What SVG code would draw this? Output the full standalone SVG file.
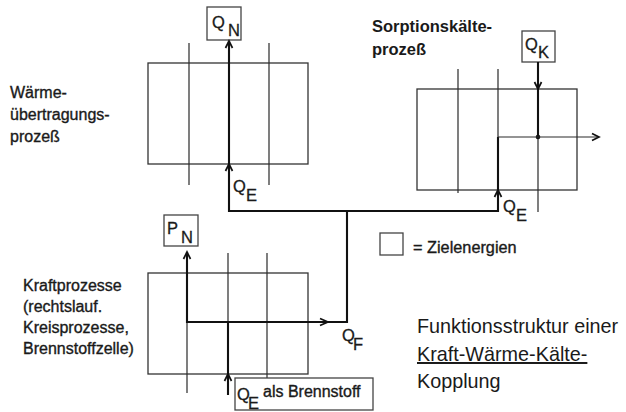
<svg xmlns="http://www.w3.org/2000/svg" width="626" height="412" viewBox="0 0 626 412">
<style>
text{font-family:"Liberation Sans",Arial,sans-serif;fill:#1a1a1a}
.lbl{font-size:16px;stroke:#1a1a1a;stroke-width:0.35}
.bold{font-size:16.5px;font-weight:bold}
.q{font-size:16.5px;stroke:#1a1a1a;stroke-width:0.3}
.qs{font-size:16px;stroke:#1a1a1a;stroke-width:0.35}
.title{font-size:19.8px}
.box{fill:none;stroke:#333;stroke-width:1.3}
.thin{fill:none;stroke:#2a2a2a;stroke-width:1.2}
.thick{fill:none;stroke:#111;stroke-width:2.1}
.ah{fill:none;stroke:#111;stroke-width:1.7;stroke-linejoin:miter}
.tbox{fill:#fff;stroke:#444;stroke-width:1.3}
</style>
<rect width="626" height="412" fill="#fff"/>

<g id="waerme">
<rect class="box" x="148" y="63" width="160" height="101"/>
<path class="thin" d="M189 43V185M269 43V185"/>
<text class="lbl" x="10" y="98">Wärme-</text>
<text class="lbl" x="10" y="120">übertragungs-</text>
<text class="lbl" x="10" y="142">prozeß</text>
</g>

<g id="sorption">
<rect class="box" x="417" y="89" width="160" height="101"/>
<path class="thin" d="M458 69V193M498 69V137M538 137V212"/>
<circle cx="538" cy="137" r="2.3" fill="#111"/>
<text class="bold" x="372" y="32">Sorptionskälte-</text>
<text class="bold" x="372" y="55">prozeß</text>
</g>

<g id="kraft">
<rect class="box" x="148" y="273" width="160" height="101"/>
<path class="thin" d="M187 322V393M228 253V322M267 253V378"/>
<text class="lbl" x="23" y="291">Kraftprozesse</text>
<text class="lbl" x="23" y="312">(rechtslauf.</text>
<text class="lbl" x="23" y="333">Kreisprozesse,</text>
<text class="lbl" x="23" y="354">Brennstoffzelle)</text>
</g>

<g id="target-qn">
<rect class="tbox" x="207" y="7" width="34" height="33"/>
<text class="q" x="212" y="28">Q<tspan x="228" y="36">N</tspan></text>
</g>

<g id="target-qk">
<rect class="tbox" x="522" y="31" width="33" height="31"/>
<text class="q" x="525" y="50">Q<tspan x="538" y="58">K</tspan></text>
</g>

<g id="target-pn">
<rect class="tbox" x="164" y="215" width="34" height="31"/>
<text class="q" x="167" y="234">P<tspan x="181" y="243">N</tspan></text>
</g>

<g id="input-qe-brennstoff">
<rect class="tbox" x="235" y="378" width="138" height="32"/>
<text class="q" x="237" y="400">Q<tspan x="248" y="409">E</tspan><tspan class="qs" x="263" y="397">als Brennstoff</tspan></text>
</g>

<g id="legend">
<rect class="tbox" x="380" y="233" width="23" height="22"/>
<text class="lbl" style="font-size:16.3px" x="413" y="253">= Zielenergien</text>
</g>

<g id="title">
<text class="title" x="417" y="333">Funktionsstruktur einer</text>
<text class="title" x="417" y="361" text-decoration="underline">Kraft-Wärme-Kälte-</text>
<text class="title" x="417" y="388">Kopplung</text>
</g>

<g id="connectors">
<path class="thick" d="M229 41V211H498V137"/>
<path class="thick" d="M347 211V322H187V252"/>
<path class="thick" d="M228 395V322"/>
<path class="thick" d="M538 62V137"/>
<path class="thin" d="M498 137H599"/>
<path class="ah" d="M225.5 48L229 41L232.5 48"/>
<path class="ah" d="M225.5 171L229 164L232.5 171"/>
<path class="ah" d="M494.5 197L498 190L501.5 197"/>
<path class="ah" d="M534.5 82L538 89L541.5 82"/>
<path class="ah" d="M592 133.5L599 137L592 140.5"/>
<path class="ah" d="M183.5 259L187 252L190.5 259"/>
<path class="ah" d="M320 318.5L328 322L320 325.5"/>
<path class="ah" d="M224.5 381L228 374L231.5 381"/>
<text class="q" x="233" y="192">Q<tspan x="246" y="201">E</tspan></text>
<text class="q" x="503" y="212">Q<tspan x="516" y="221">E</tspan></text>
<text class="q" x="342" y="341">Q<tspan x="353" y="350">F</tspan></text>
</g>
</svg>
